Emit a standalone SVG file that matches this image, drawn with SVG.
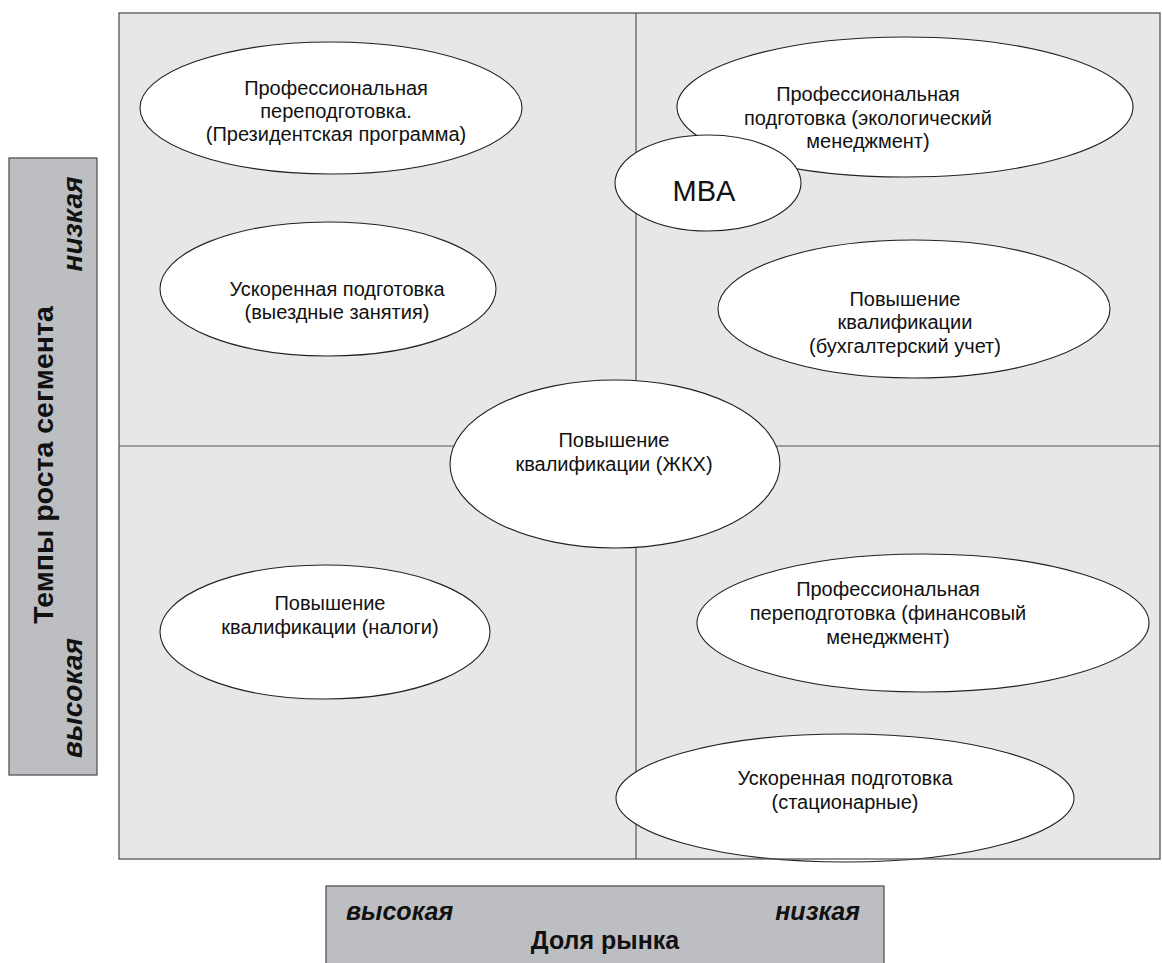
<svg xmlns="http://www.w3.org/2000/svg" width="1162" height="963" viewBox="0 0 1162 963">
<style>
.q{fill:#e6e7e9;}
.frame{fill:none;stroke:#555;stroke-width:1.3;}
.div{stroke:#555;stroke-width:1.2;}
.node ellipse{fill:#fff;stroke:#222;stroke-width:1.1;}
.t{font-family:"Liberation Sans",Arial,sans-serif;font-size:20px;fill:#111;text-anchor:middle;}
.big{font-size:29px;}
.ax{font-family:"Liberation Sans",Arial,sans-serif;font-weight:bold;fill:#111;}
.box{fill:#bdbec2;stroke:#555;stroke-width:1.3;}
</style>
<rect class="q" x="119" y="13" width="1041" height="846"/>
<g id="connectors">
<line class="div" x1="119" y1="446" x2="1160" y2="446"/>
<line class="div" x1="636" y1="13" x2="636" y2="859"/>
</g>
<g id="axis-y">
<rect class="box" x="9" y="158" width="88" height="617"/>
<text class="ax" font-size="28.5" text-anchor="middle" transform="translate(53,465) rotate(-90)">Темпы роста сегмента</text>
<text class="ax" font-size="28" font-style="italic" text-anchor="middle" transform="translate(82,224) rotate(-90)">низкая</text>
<text class="ax" font-size="28" font-style="italic" text-anchor="middle" transform="translate(82,698) rotate(-90)">высокая</text>
</g>
<g id="axis-x">
<rect class="box" x="326" y="886" width="558" height="90"/>
<text class="ax" font-size="25" font-style="italic" x="346" y="920">высокая</text>
<text class="ax" font-size="25" font-style="italic" x="860" y="920" text-anchor="end">низкая</text>
<text class="ax" font-size="25" x="605" y="949" text-anchor="middle">Доля рынка</text>
</g>
<g id="n1" class="node">
<ellipse cx="331" cy="108" rx="191" ry="66"/>
<text class="t" x="336" y="95">Профессиональная</text>
<text class="t" x="336" y="118">переподготовка.</text>
<text class="t" x="336" y="141">(Президентская программа)</text>
</g>
<g id="n2" class="node">
<ellipse cx="905" cy="107" rx="228" ry="70"/>
<text class="t" x="868" y="101">Профессиональная</text>
<text class="t" x="868" y="125">подготовка (экологический</text>
<text class="t" x="868" y="148">менеджмент)</text>
</g>
<g id="n3" class="node">
<ellipse cx="708" cy="183" rx="93" ry="48"/>
<text class="t big" x="704" y="201">MBA</text>
</g>
<g id="n4" class="node">
<ellipse cx="328" cy="289" rx="168" ry="67"/>
<text class="t" x="337" y="296">Ускоренная подготовка</text>
<text class="t" x="337" y="319">(выездные занятия)</text>
</g>
<g id="n5" class="node">
<ellipse cx="914" cy="309" rx="196" ry="69"/>
<text class="t" x="905" y="306">Повышение</text>
<text class="t" x="905" y="329">квалификации</text>
<text class="t" x="905" y="353">(бухгалтерский учет)</text>
</g>
<g id="n6" class="node">
<ellipse cx="615" cy="464" rx="165" ry="84"/>
<text class="t" x="614" y="447">Повышение</text>
<text class="t" x="614" y="471">квалификации (ЖКХ)</text>
</g>
<g id="n7" class="node">
<ellipse cx="325" cy="632" rx="165" ry="67"/>
<text class="t" x="330" y="610">Повышение</text>
<text class="t" x="330" y="634">квалификации (налоги)</text>
</g>
<g id="n8" class="node">
<ellipse cx="923" cy="623" rx="226" ry="69"/>
<text class="t" x="888" y="596">Профессиональная</text>
<text class="t" x="888" y="620">переподготовка (финансовый</text>
<text class="t" x="888" y="644">менеджмент)</text>
</g>
<g id="n9" class="node">
<ellipse cx="845" cy="798" rx="229" ry="64"/>
<text class="t" x="845" y="785">Ускоренная подготовка</text>
<text class="t" x="845" y="809">(стационарные)</text>
</g>
<rect class="frame" x="119" y="13" width="1041" height="846"/>
</svg>
